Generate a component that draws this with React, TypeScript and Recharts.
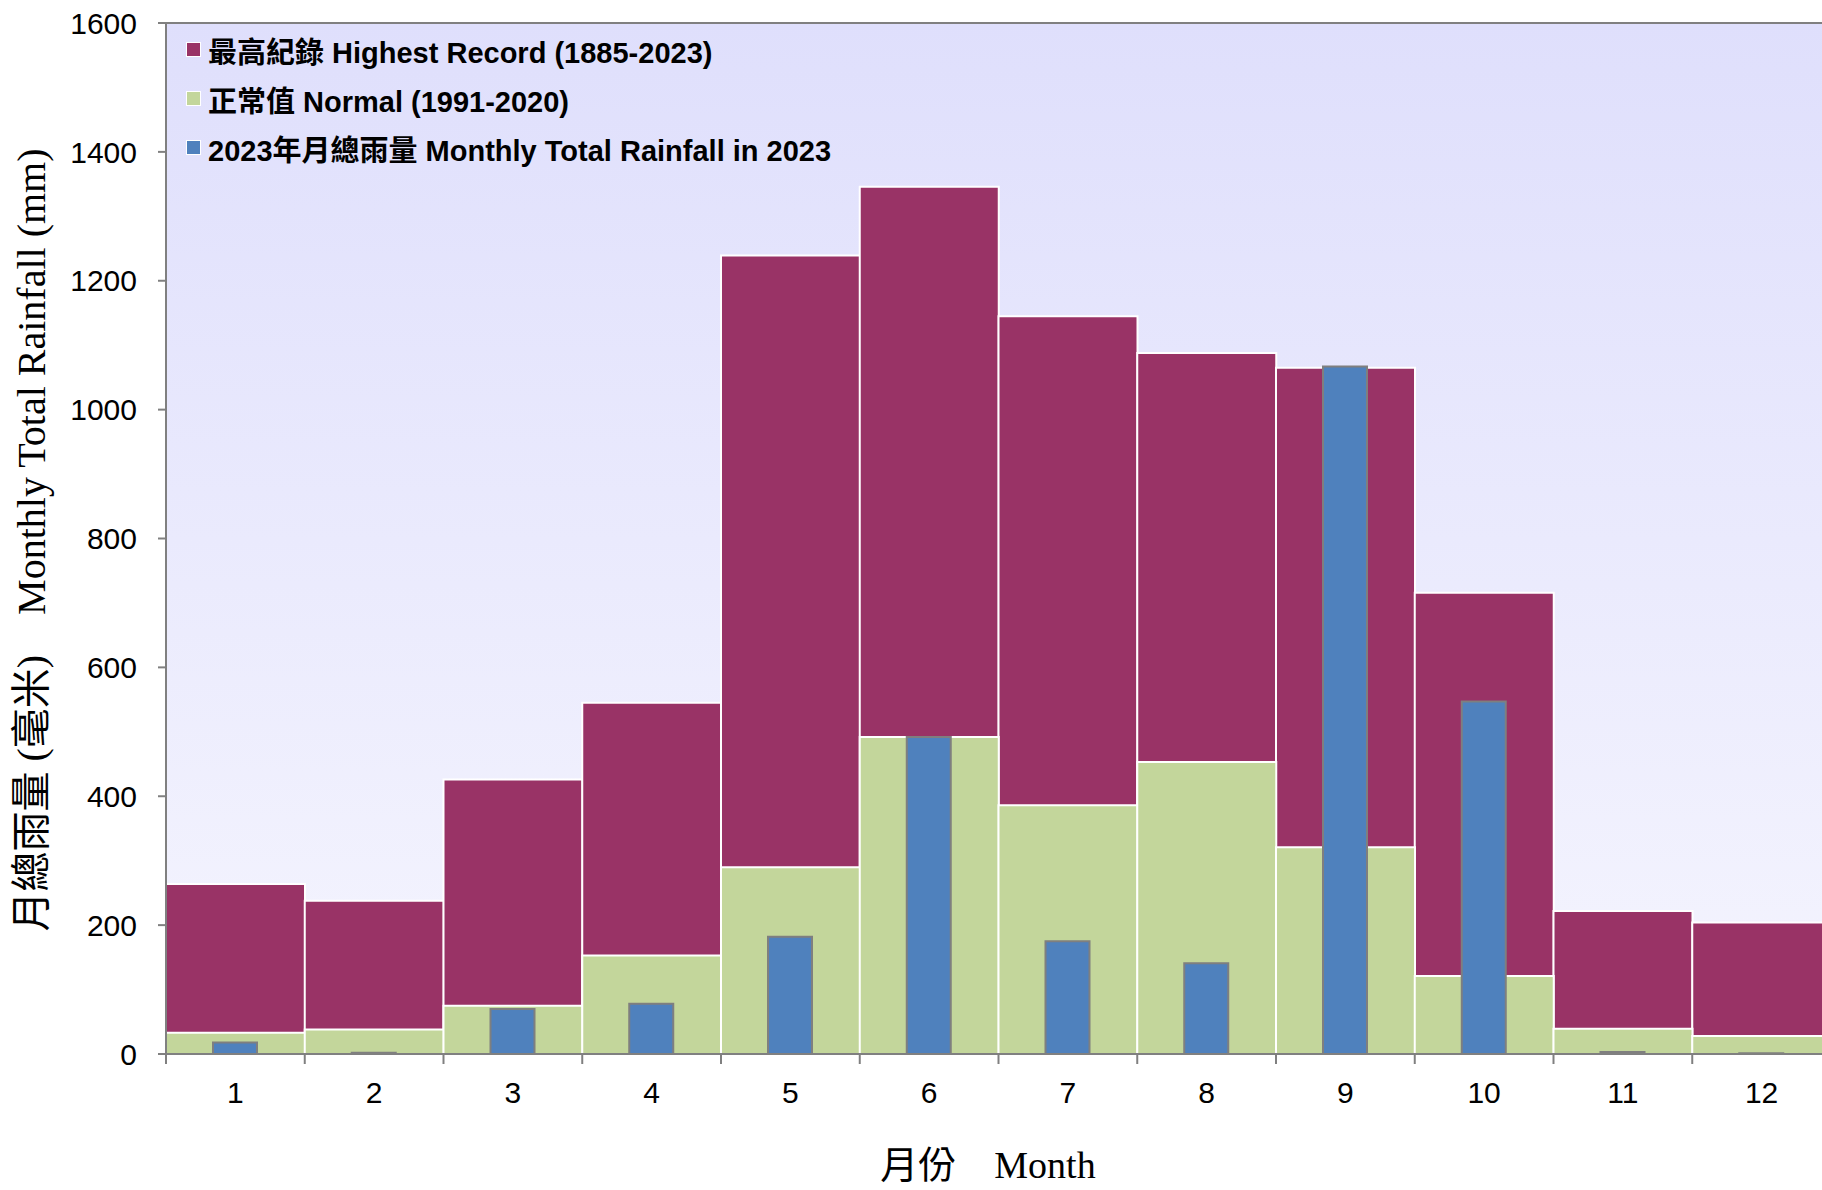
import {
  BarChart,
  Bar,
  XAxis,
  YAxis,
  CartesianGrid,
  ReferenceLine,
} from "recharts";

const months = [1, 2, 3, 4, 5, 6, 7, 8, 9, 10, 11, 12];
// 最高紀錄 (1885-2023)
const highestRecord = [264, 238, 426, 545, 1239, 1346, 1145, 1088, 1065, 716, 222, 204];
// 正常值 (1991-2020)
const normalValues = [33, 38, 75, 153, 290, 492, 386, 453, 321, 121, 39, 28];
// 2023年月總雨量
const rain2023 = [18, 2, 70, 78, 182, 492, 175, 141, 1067, 547, 3, 1];
const yTicks = [0, 200, 400, 600, 800, 1000, 1200, 1400, 1600];

const legendItems = [
  { label: "最高紀錄 Highest Record (1885-2023)", color: "#993366" },
  { label: "正常值 Normal (1991-2020)", color: "#C3D69B" },
  { label: "2023年月總雨量 Monthly Total Rainfall in 2023", color: "#4F81BD" },
];

const SANS = "'Liberation Sans', Arial, 'Noto Sans CJK TC', sans-serif";
const SERIF = "'Liberation Serif', 'Times New Roman', 'Noto Sans CJK TC', serif";

const data = months.map((m, i) => ({
  m,
  month: String(m),
  record: highestRecord[i],
  normal: normalValues[i],
  y2023: rain2023[i],
}));

// tick marks sit between months, labels at the month centres
const xTicks = [...months.map((m) => m - 0.5), 12.5, ...months].sort((a, b) => a - b);

function MonthTick(props: any) {
  const { x, y, payload } = props;
  const v = payload.value;
  if (Number.isInteger(v)) {
    return (
      <text x={x} y={y + 49} textAnchor="middle" fontSize={30} fontFamily={SANS} fill="#000">
        {v}
      </text>
    );
  }
  return <line x1={x} y1={y} x2={x} y2={y + 10} stroke="#808080" strokeWidth={2} />;
}

function LegendBox() {
  return (
    <div
      style={{
        position: "absolute",
        left: 186,
        top: 25,
        fontFamily: SANS,
        fontWeight: "bold",
        fontSize: 29,
        color: "#000",
      }}
    >
      {legendItems.map((it) => (
        <div key={it.label} style={{ display: "flex", alignItems: "center", height: 49, whiteSpace: "nowrap" }}>
          <span
            style={{
              display: "inline-block",
              width: 13,
              height: 13,
              background: it.color,
              border: "1px solid #ffffff",
              marginRight: 7,
            }}
          />
          <span>{it.label}</span>
        </div>
      ))}
    </div>
  );
}

export default function App() {
  return (
    <div
      style={{
        position: "absolute",
        left: 0,
        top: 0,
        width: 1822,
        height: 1190,
        overflow: "hidden",
        background: "#fff",
      }}
    >
      <BarChart
        width={1840}
        height={1190}
        data={data}
        margin={{ top: 23, right: 9, left: 86, bottom: 76 }}
        barCategoryGap={0}
        barGap={0}
      >
        <defs>
          <linearGradient id="bgGrad" x1="0" y1="0" x2="0" y2="1">
            <stop offset="0%" stopColor="#DFDFFC" />
            <stop offset="100%" stopColor="#F5F5FE" />
          </linearGradient>
        </defs>
        <XAxis
          xAxisId="a0"
          type="number"
          dataKey="m"
          domain={[0.5, 12.5]}
          ticks={xTicks}
          interval={0}
          height={60}
          tickSize={0}
          tickMargin={0}
          tickLine={false}
          axisLine={{ stroke: "#808080", strokeWidth: 2 }}
          tick={<MonthTick />}
        />
        <XAxis xAxisId="rec" dataKey="month" hide height={0} />
        <XAxis xAxisId="norm" dataKey="month" hide height={0} />
        <XAxis xAxisId="cur" dataKey="month" hide height={0} />
        <YAxis
          domain={[0, 1600]}
          ticks={yTicks}
          interval={0}
          width={80}
          tickSize={8}
          tickMargin={21}
          tickLine={{ stroke: "#808080", strokeWidth: 2 }}
          axisLine={{ stroke: "#808080", strokeWidth: 2 }}
          tick={{ fontSize: 30, fontFamily: SANS, fill: "#000" }}
        />
        <CartesianGrid
          xAxisId="a0"
          fill="url(#bgGrad)"
          stroke="none"
          horizontal={false}
          vertical={false}
        />
        <Bar
          xAxisId="rec"
          dataKey="record"
          name="最高紀錄 Highest Record (1885-2023)"
          fill="#993366"
          stroke="#ffffff"
          strokeWidth={2}
          isAnimationActive={false}
        />
        <Bar
          xAxisId="norm"
          dataKey="normal"
          name="正常值 Normal (1991-2020)"
          fill="#C3D69B"
          stroke="#ffffff"
          strokeWidth={2}
          isAnimationActive={false}
        />
        <Bar
          xAxisId="cur"
          dataKey="y2023"
          name="2023年月總雨量 Monthly Total Rainfall in 2023"
          fill="#4F81BD"
          stroke="#7F7F7F"
          strokeWidth={2}
          barSize={44}
          isAnimationActive={false}
        />
        <ReferenceLine xAxisId="a0" y={1600} stroke="#808080" strokeWidth={2} />
      </BarChart>

      <LegendBox />

      <div
        style={{
          position: "absolute",
          left: 32,
          top: 540,
          transform: "translate(-50%, -50%) rotate(-90deg)",
          whiteSpace: "nowrap",
          fontFamily: SERIF,
          fontSize: 40,
          lineHeight: "44px",
          color: "#000",
        }}
      >
        月總雨量 (毫米)&nbsp;&nbsp;&nbsp;&nbsp;Monthly Total Rainfall (mm)
      </div>
      <div
        style={{
          position: "absolute",
          left: 988,
          top: 1165,
          transform: "translate(-50%, -50%)",
          whiteSpace: "nowrap",
          fontFamily: SERIF,
          fontSize: 38,
          lineHeight: "42px",
          color: "#000",
        }}
      >
        月份&nbsp;&nbsp;&nbsp;&nbsp;Month
      </div>
    </div>
  );
}
